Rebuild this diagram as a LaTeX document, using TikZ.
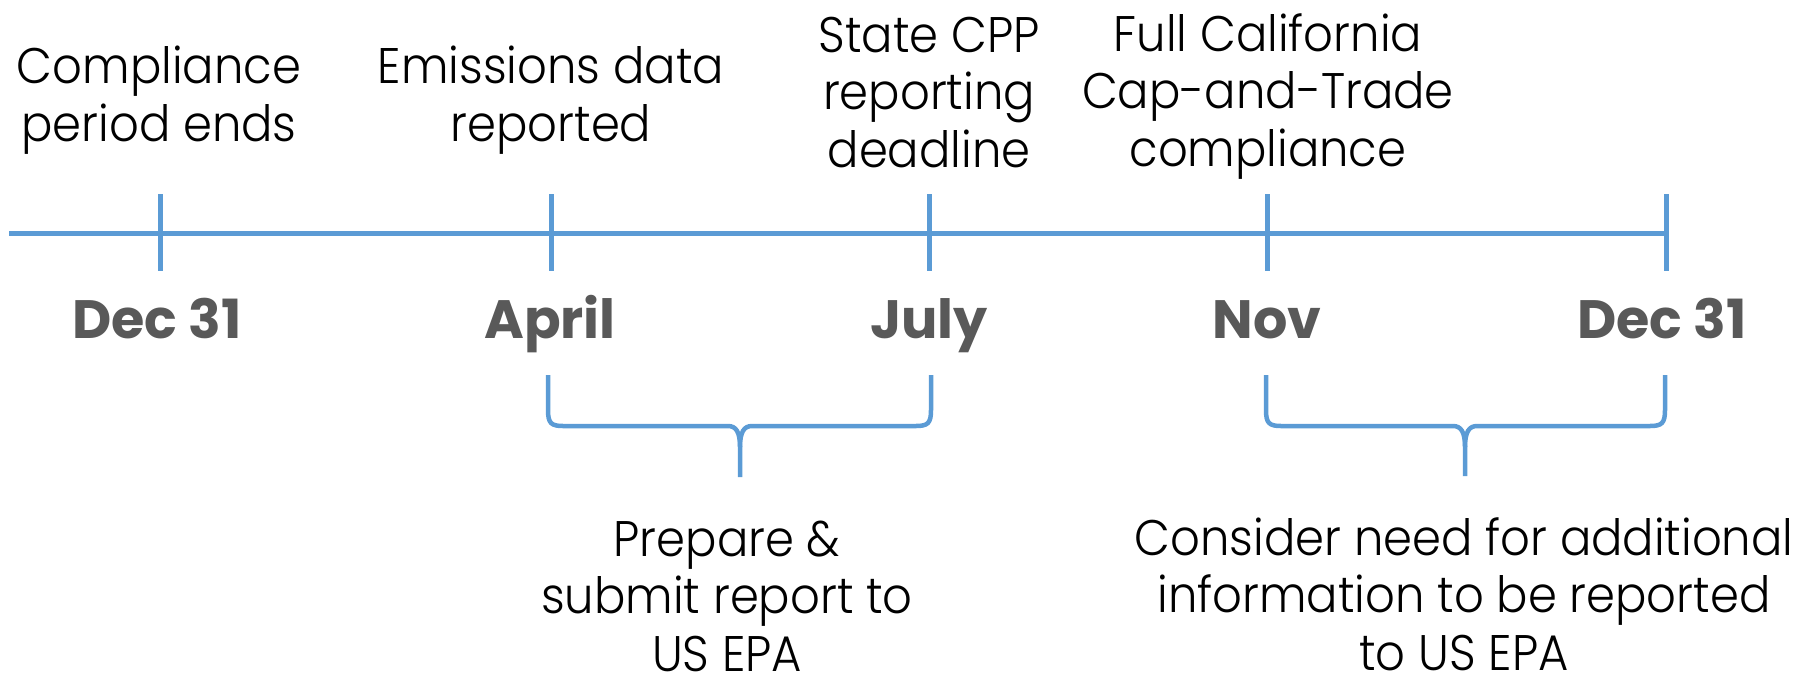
\documentclass[tikz,border=0pt]{standalone}
\usepackage{fontspec}
\setmainfont{Poppins}
\IfFontExistsTF{Poppins Light}
  {\newfontfamily\lblfont{Poppins Light}[FakeStretch=0.93]}
  {\newfontfamily\lblfont{Poppins}[FakeStretch=0.93]}
\definecolor{tlblue}{RGB}{91,155,213}
\definecolor{dategray}{RGB}{89,89,89}
\begin{document}
\begin{tikzpicture}[x=1pt,y=-1pt,
  tl/.style={draw=tlblue,line width=5pt},
  bracestyle/.style={draw=tlblue,line width=4.5pt,line join=round},
  lbl/.style={font=\lblfont\fontsize{50}{57.5}\selectfont,align=center,anchor=base,inner sep=0pt,text=black},
  datelbl/.style={font=\fontsize{54}{60}\selectfont\bfseries,text=dategray,anchor=base,inner sep=0pt}]
\path[use as bounding box] (0,0) rectangle (1804,673);
% timeline
\coordinate (start) at (9,233);
\coordinate (d1) at (160,233);
\coordinate (d2) at (551,233);
\coordinate (d3) at (929,233);
\coordinate (d4) at (1267,233);
\coordinate (d5) at (1666,233);
\draw[tl] (start) -- (d5);
\foreach \c in {d1,d2,d3,d4,d5}
  \draw[tl] ([yshift=39pt]\c) -- ([yshift=-38pt]\c);
% top labels (anchor = baseline of last line)
\node[lbl] (e1) at (159,141) {Compliance\\period ends};
\node[lbl] (e2) at (551,141) {Emissions data\\reported};
\node[lbl] (e3) at (929,167) {State CPP\\reporting\\deadline};
\node[lbl] (e4) at (1268,166) {Full California\\Cap-and-Trade\\compliance};
% dates
\node[datelbl] (m1) at (157,338) {Dec 31};
\node[datelbl] (m2) at (550,338) {April};
\node[datelbl] (m3) at (929,338) {July};
\node[datelbl] (m4) at (1267,338) {Nov};
\node[datelbl] (m5) at (1662,338) {Dec 31};
% braces
\coordinate (b1tip) at (740,477);
\draw[bracestyle] (548,375) -- (548,410) .. controls (548,423) and (551,426) .. (563,426)
  -- (728,426) .. controls (736,426) and (740,432) .. (740,447) -- (b1tip);
\draw[bracestyle] (931,375) -- (931,410) .. controls (931,423) and (928,426) .. (916,426)
  -- (752,426) .. controls (744,426) and (740,432) .. (740,447);
\coordinate (b2tip) at (1465,476);
\draw[bracestyle] (1266,375) -- (1266,410) .. controls (1266,423) and (1269,426) .. (1281,426)
  -- (1453,426) .. controls (1461,426) and (1465,432) .. (1465,447) -- (b2tip);
\draw[bracestyle] (1665,375) -- (1665,410) .. controls (1665,423) and (1662,426) .. (1650,426)
  -- (1477,426) .. controls (1469,426) and (1465,432) .. (1465,447);
% bottom labels
\node[lbl] (p1) at (727,671) {Prepare \&\\submit report to\\US EPA};
\node[lbl] (p2) at (1464,670) {Consider need for additional\\information to be reported\\to US EPA};
\end{tikzpicture}
\end{document}
